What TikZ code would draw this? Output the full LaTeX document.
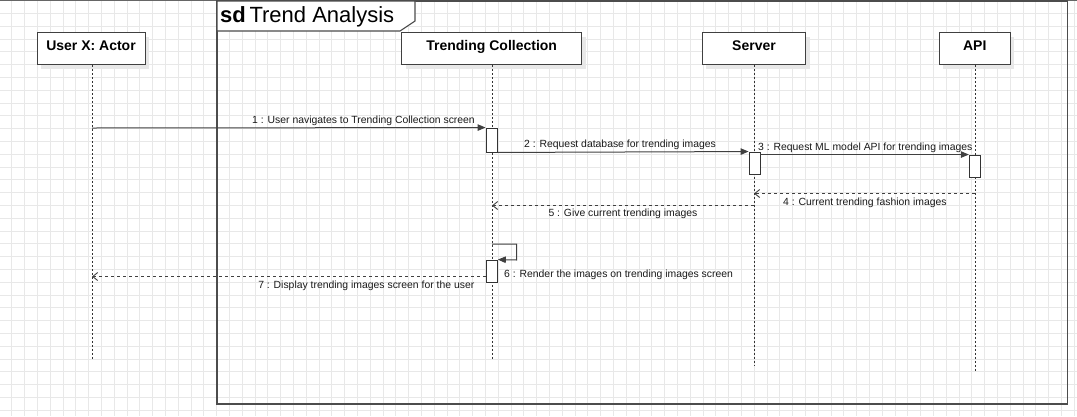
\documentclass[tikz,border=0pt]{standalone}
\usepackage{fontspec}
\setmainfont{Liberation Sans}
\usetikzlibrary{arrows.meta}
\begin{document}
\begin{tikzpicture}[x=1pt,y=-1pt,
  gridline/.style={draw=black!9, line width=0.8pt},
  frameline/.style={draw=black!70, line width=1.1pt},
  head/.style={draw=black!75, fill=white, line width=0.9pt, minimum height=32pt, inner sep=0pt,
    text height=10pt, text depth=6pt, font=\bfseries\fontsize{14}{16}\selectfont,
    preaction={fill=black!9, transform canvas={shift={(4pt,-4pt)}}}},
  actbox/.style={draw=black!80, fill=white, line width=0.9pt, inner sep=0pt, minimum width=11.5pt},
  lifeline/.style={draw=black!80, line width=0.9pt, dash pattern=on 2pt off 2pt},
  callmsg/.style={draw=black!75, line width=1pt, -{Triangle[length=8pt,width=6.5pt]}},
  retmsg/.style={draw=black!75, line width=0.9pt, dash pattern=on 3pt off 3pt, -{Straight Barb[length=5pt,width=8pt]}},
  msglabel/.style={inner sep=0pt, font=\fontsize{10.4}{12}\selectfont, text=black!90}
]
\useasboundingbox (0,0) rectangle (1077,416);
% background grid
\foreach \i in {0,...,84} {\draw[gridline] ({-1.1+12.8*\i},0) -- ({-1.1+12.8*\i},416);}
\foreach \i in {0,...,32} {\draw[gridline] (0,{0.5+12.8*\i}) -- (1077,{0.5+12.8*\i});}
\draw[draw=black!60, line width=1pt] (0,0.5) -- (1077,0.5);

% frame
\draw[frameline] (217,1) rectangle (1067.5,404);
\draw[frameline, fill=white] (217,1) -- (415,1) -- (415,21) -- (400,31) -- (217,31) -- cycle;
\node[anchor=base west, inner sep=0pt, font=\fontsize{22}{26}\selectfont] (title) at (220,22) {\textbf{sd}\,Trend Analysis};

% lifeline heads
\node[head, minimum width=108pt] (user) at (91,48.5) {User X: Actor};
\node[head, minimum width=180pt] (tc) at (491.7,48.5) {Trending Collection};
\node[head, minimum width=103.5pt] (srv) at (754,48.5) {Server};
\node[head, minimum width=71pt] (api) at (974.8,48.5) {API};

% lifeline ends
\coordinate (uEnd) at (92,359);
\coordinate (tEnd) at (492,359);
\coordinate (sEnd) at (754,365);
\coordinate (aEnd) at (975,371);

\draw[lifeline] (user.south -| uEnd) -- (uEnd);
\draw[lifeline] (tc.south -| tEnd) -- (tEnd);
\draw[lifeline] (srv.south -| sEnd) -- (sEnd);
\draw[lifeline] (api.south -| aEnd) -- (aEnd);

% activations
\node[actbox, minimum height=24pt] (act1) at (491.75,140) {};
\node[actbox, minimum width=11pt, minimum height=22.5pt] (actS) at (754.5,163.25) {};
\node[actbox, minimum width=11.4pt, minimum height=22pt] (actA) at (975,166) {};
\node[actbox, minimum width=11.3pt, minimum height=22pt] (act6) at (491.7,271) {};

% messages
\coordinate (m1s) at (92,128);
\draw[callmsg] (m1s) -- (act1.north west);
\node[msglabel, anchor=base east] (l1) at (475,123.5) {1 : User navigates to Trending Collection screen};

\draw[callmsg] (act1.south east) -- (actS.north west);
\node[msglabel, anchor=base west] (l2) at (524,147.5) {2 : Request database for trending images};

\draw[callmsg] (actS.east |- actA.north) -- (actA.north west);
\node[msglabel, anchor=base west] (l3) at (758,150) {3 : Request ML model API for trending images};

\draw[retmsg] (aEnd |- 0,193.5) -- (sEnd |- 0,193.5);
\node[msglabel, anchor=base west] (l4) at (783,205.3) {4 : Current trending fashion images};

\draw[retmsg] (sEnd |- 0,205.5) -- (tEnd |- 0,205.5);
\node[msglabel, anchor=base west] (l5) at (548.3,216.7) {5 : Give current trending images};

\draw[callmsg] (tEnd |- 0,244) -- (516.7,244) -- (516.7,260) -- (act6.north east);
\node[msglabel, anchor=base west] (l6) at (504,277.7) {6 : Render the images on trending images screen};

\draw[retmsg] (act6.west |- 0,276.5) -- (uEnd |- 0,276.5);
\node[msglabel, anchor=base east] (l7) at (474.5,288.3) {7 : Display trending images screen for the user};
\end{tikzpicture}
\end{document}
